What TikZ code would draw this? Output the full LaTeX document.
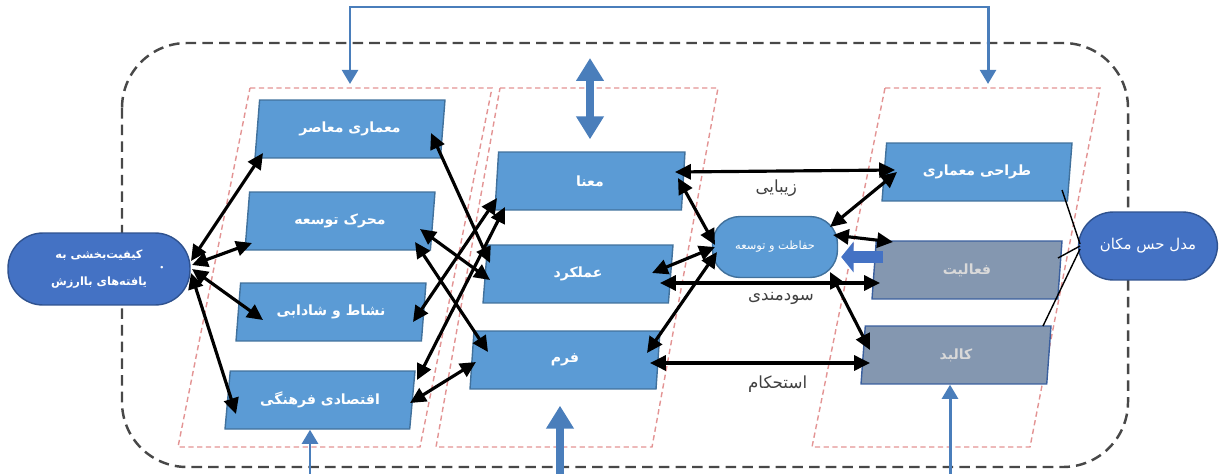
\documentclass[tikz,border=0pt]{standalone}
\usepackage{fontspec}
\usetikzlibrary{shapes.geometric,arrows.meta,calc}
\newfontfamily\fa[Script=Arabic]{DejaVu Sans}
\TeXXeTstate=1
\newcommand{\rtl}[1]{\fa\beginR #1\endR}
\definecolor{boxblue}{HTML}{5B9BD5}
\definecolor{boxedge}{HTML}{41719C}
\definecolor{boxgray}{HTML}{8497B0}
\definecolor{grayedge}{HTML}{3A5F9E}
\definecolor{termblue}{HTML}{4472C4}
\definecolor{termedge}{HTML}{2F528F}
\definecolor{linkblue}{HTML}{4A7EBB}
\definecolor{colpink}{HTML}{E39494}
\definecolor{framegray}{HTML}{484848}
\definecolor{labelgray}{HTML}{404040}
\tikzset{
  part/.style={trapezium, trapezium left angle=72, trapezium right angle=108,
    trapezium stretches body, minimum width=3.8cm, minimum height=1.16cm, inner sep=0pt,
    fill=boxblue, draw=boxedge, line width=0.8pt, text=white, font=\fontsize{8}{10}\selectfont\bfseries},
  faded/.style={part, fill=boxgray, draw=grayedge, text=black!15},
  term/.style={rectangle, rounded corners=0.7cm, fill=termblue, draw=termedge,
    line width=0.8pt, text=white, align=center},
  column/.style={draw=colpink, dash pattern=on 3pt off 2pt, line width=0.8pt},
  twoway/.style={line width=1.8pt, {Triangle[length=9pt,width=8.5pt]}-{Triangle[length=9pt,width=8.5pt]}},
  feed/.style={draw=linkblue, line width=1.7pt, arrows={-Triangle[length=8pt,width=9pt]}},
  fat/.style={draw=linkblue, line width=5pt, {Triangle[length=13pt,width=15pt]}-{Triangle[length=13pt,width=15pt]}},
  edgelabel/.style={text=labelgray, font=\fontsize{9.5}{11}\selectfont}
}
\begin{document}
\begin{tikzpicture}[x=0.02cm, y=-0.02cm]
    \useasboundingbox (0,0) rectangle (1219,473);
    \clip (0,0) rectangle (1219,473);
    \draw[framegray, line width=1.4pt, dash pattern=on 6pt off 3.5pt, rounded corners=1.3cm] (122,43) rectangle (1128,467);
    \draw[column] (250,88) -- (492,88) -- (420,447) -- (178,447) -- cycle;
    \draw[column] (500,88) -- (718,88) -- (652,447) -- (436,447) -- cycle;
    \draw[column] (885,88) -- (1100,88) -- (1030,447) -- (812,447) -- cycle;

    \node[term, minimum width=3.64cm, minimum height=1.44cm, font=\fontsize{6.5}{15}\selectfont\bfseries] (goal) at (99,269) {\rtl{کیفیت‌بخشی به}\\\rtl{یافته‌های باارزش}};
    \node[text=white, font=\fontsize{5}{5}\selectfont] (dot) at (162,268) {\textbullet};
    \node[term, minimum width=2.78cm, minimum height=1.36cm, font=\fontsize{8.5}{11}\selectfont] (model) at (1148,246) {\rtl{مدل حس مکان}};
    \node[term, fill=boxblue, draw=boxedge, rounded corners=0.55cm, minimum width=2.5cm, minimum height=1.22cm, font=\fontsize{6.5}{8}\selectfont] (keep) at (775,247) {\rtl{حفاظت و توسعه}};

    \node[part] (a1) at (350,129) {\rtl{معماری معاصر}};
    \node[part] (a2) at (340,221) {\rtl{محرک توسعه}};
    \node[part] (a3) at (331,312) {\rtl{نشاط و شادابی}};
    \node[part] (a4) at (320,400) {\rtl{اقتصادی فرهنگی}};
    \node[part] (b1) at (590,181) {\rtl{معنا}};
    \node[part] (b2) at (578,274) {\rtl{عملکرد}};
    \node[part] (b3) at (565,360) {\rtl{فرم}};
    \node[part] (c1) at (977,172) {\rtl{طراحی معماری}};
    \node[faded] (c2) at (967,270) {\rtl{فعالیت}};
    \node[faded] (c3) at (956,355) {\rtl{کالبد}};

    \coordinate (topA) at (350,84);
    \coordinate (topC) at (988,84);
    \coordinate (inA) at (310,490);
    \coordinate (inC) at (950,490);
    \coordinate (upB) at (590,58);
    \coordinate (dnB) at (560,500);
    \draw[feed, arrows={Triangle[length=8pt,width=9pt]-Triangle[length=8pt,width=9pt]}] (topA) -- ++(0,-77) -| (topC);
    \draw[feed] (inA) -- (inA |- a4.south);
    \draw[feed] (inC) -- (inC |- c3.south);
    \draw[fat, shorten >=0.24cm] (upB) -- (upB |- b1.north);
    \draw[fat, shorten >=0.32cm] (dnB) -- (dnB |- b3.south);
    \draw[termblue, line width=7pt, -{Triangle[length=7pt,width=17pt]}] ($(c2)+(-84,-13)$) -- ($(keep.east)+(3,10)$);

    \draw[twoway] ($(goal)+(92,-8)$) -- ($(a1)+(-87,24)$);
    \draw[twoway] ($(goal)+(93,-4)$) -- ($(a2)+(-88,22)$);
    \draw[twoway] ($(goal)+(93,0)$) -- ($(a3)+(-68,8)$);
    \draw[twoway] ($(goal)+(92,4)$) -- ($(a4)+(-84,14)$);

    \draw[twoway] ($(a1)+(81,4)$) -- ($(b2)+(-88,-11)$);
    \draw[twoway] ($(a2)+(80,8)$) -- ($(b2)+(-88,6)$);
    \draw[twoway] ($(a2)+(75,21)$) -- ($(b3)+(-77,-8)$);
    \draw[twoway] ($(a3)+(82,10)$) -- ($(b1)+(-93,17)$);
    \draw[twoway] ($(a4)+(97,-20)$) -- ($(b1)+(-85,26)$);
    \draw[twoway] ($(a4)+(90,3)$) -- ($(b3)+(-89,2)$);

    \draw[twoway] ($(b1)+(85,-9)$) -- node[edgelabel, pos=0.46, below=1pt] (beauty) {\rtl{زیبایی}} ($(c1)+(-82,-2)$);
    \draw[twoway] ($(b2)+(82,9)$) -- node[edgelabel, pos=0.55, below=1pt] (use) {\rtl{سودمندی}} ($(c2)+(-87,13)$);
    \draw[twoway] ($(b3)+(85,3)$) -- node[edgelabel, pos=0.58, below=3pt] (firm) {\rtl{استحکام}} ($(c3)+(-86,8)$);

    \draw[twoway] ($(b1)+(88,-3)$) -- ($(keep)+(-60,-2)$);
    \draw[twoway] ($(b2)+(74,-1)$) -- ($(keep)+(-60,0)$);
    \draw[twoway] ($(b3)+(82,-7)$) -- ($(keep)+(-58,5)$);
    \draw[twoway] ($(keep)+(55,-20)$) -- ($(c1)+(-80,0)$);
    \draw[twoway] ($(keep)+(58,-12)$) -- ($(c2)+(-74,-28)$);
    \draw[twoway] ($(keep)+(55,25)$) -- ($(c3)+(-86,-5)$);

    \draw[line width=0.8pt] ($(c1)+(85,18)$) -- ($(model)+(-68,-2)$);
    \draw[line width=0.8pt] ($(c2)+(91,-12)$) -- ($(model)+(-68,0)$);
    \draw[line width=0.8pt] ($(c3)+(87,-29)$) -- ($(model)+(-68,3)$);
\end{tikzpicture}
\end{document}
